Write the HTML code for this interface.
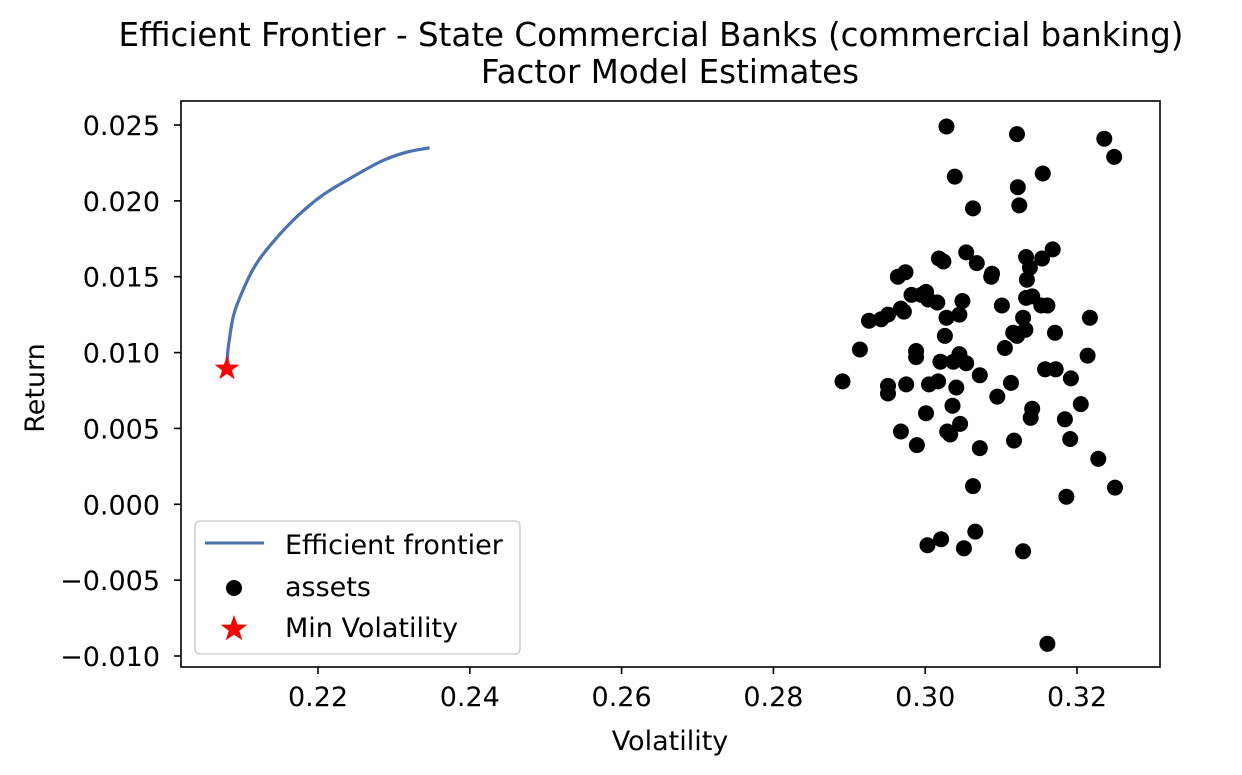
<!DOCTYPE html>
<html><head><meta charset="utf-8"><style>
html,body{margin:0;padding:0;background:#fff;}
svg{display:block;font-family:"DejaVu Sans","Liberation Sans",sans-serif;}
</style></head><body>
<svg id="chart" width="1242" height="775" viewBox="0 0 1242 775">
<rect x="0" y="0" width="1242" height="775" fill="#fff"/>
<g id="plot"></g>
</svg>
<script>
const assetVol=[0.3028,0.3121,0.3236,0.3249,0.3039,0.3155,0.3122,0.3063,0.3124,0.3054,0.3133,0.3168,0.3154,0.3018,0.3024,0.3068,0.3138,0.2964,0.2974,0.3087,0.3134,0.3088,0.2982,0.2995,0.3001,0.3004,0.3016,0.3049,0.3133,0.3141,0.3153,0.3161,0.2968,0.2972,0.2951,0.2942,0.2926,0.3045,0.3028,0.3129,0.3101,0.3217,0.3132,0.3116,0.3121,0.3171,0.3026,0.3105,0.2988,0.2914,0.2988,0.3045,0.3054,0.3037,0.3020,0.3214,0.2891,0.2951,0.2951,0.2975,0.3005,0.3017,0.3041,0.3072,0.3113,0.3158,0.3172,0.3192,0.3205,0.3095,0.3141,0.3139,0.3036,0.3001,0.3184,0.2968,0.3029,0.3033,0.3046,0.3117,0.3191,0.3072,0.2989,0.3228,0.3063,0.3250,0.3186,0.3066,0.3021,0.3003,0.3051,0.3129,0.3161];
const assetRet=[0.0249,0.0244,0.0241,0.0229,0.0216,0.0218,0.0209,0.0195,0.0197,0.0166,0.0163,0.0168,0.0162,0.0162,0.0160,0.0159,0.0156,0.0150,0.0153,0.0150,0.0148,0.0152,0.0138,0.0138,0.0140,0.0135,0.0133,0.0134,0.0136,0.0137,0.0131,0.0131,0.0129,0.0127,0.0125,0.0122,0.0121,0.0125,0.0123,0.0123,0.0131,0.0123,0.0115,0.0113,0.0111,0.0113,0.0111,0.0103,0.0101,0.0102,0.0097,0.0099,0.0093,0.0094,0.0094,0.0098,0.0081,0.0078,0.0073,0.0079,0.0079,0.0081,0.0077,0.0085,0.0080,0.0089,0.0089,0.0083,0.0066,0.0071,0.0063,0.0057,0.0065,0.0060,0.0056,0.0048,0.0048,0.0046,0.0053,0.0042,0.0043,0.0037,0.0039,0.0030,0.0012,0.0011,0.0005,-0.0018,-0.0023,-0.0027,-0.0029,-0.0031,-0.0092];
const frontierVol=[0.2080,0.2081,0.2083,0.2089,0.2101,0.2118,0.2141,0.2171,0.2204,0.2243,0.2283,0.2316,0.2347];
const frontierRet=[0.0090,0.0100,0.0108,0.0125,0.0141,0.0158,0.0173,0.0189,0.0203,0.0215,0.0226,0.0232,0.0235];
const minVol=[0.2080];
const minRet=[0.0090];
const xTicks=[0.22,0.24,0.26,0.28,0.30,0.32];
const yTicks=[0.025,0.020,0.015,0.010,0.005,0.000,-0.005,-0.010];

const L=181,R=1160,T=101,B=667;
function xs(v){return 318+(v-0.22)*7590;}
function ys(r){return 125+(0.025-r)*15171;}
const NS="http://www.w3.org/2000/svg";
const g=document.getElementById('plot');
function mk(tag,attrs,parent){const e=document.createElementNS(NS,tag);for(const k in attrs)e.setAttribute(k,attrs[k]);(parent||g).appendChild(e);return e;}

// smooth path through frontier points (Catmull-Rom)
const fp=frontierVol.map((v,i)=>[xs(v),ys(frontierRet[i])]);
let d='M'+fp[0][0].toFixed(1)+' '+fp[0][1].toFixed(1);
for(let i=0;i<fp.length-1;i++){
  const p0=fp[Math.max(i-1,0)],p1=fp[i],p2=fp[i+1],p3=fp[Math.min(i+2,fp.length-1)];
  const c1=[p1[0]+(p2[0]-p0[0])/6,p1[1]+(p2[1]-p0[1])/6];
  const c2=[p2[0]-(p3[0]-p1[0])/6,p2[1]-(p3[1]-p1[1])/6];
  d+=' C'+c1[0].toFixed(1)+' '+c1[1].toFixed(1)+' '+c2[0].toFixed(1)+' '+c2[1].toFixed(1)+' '+p2[0].toFixed(1)+' '+p2[1].toFixed(1);
}
const fl=mk('path',{d:d,fill:'none',stroke:'#4c72b0','stroke-width':3.2,'stroke-linejoin':'round'});



const ag=mk('g',{});


assetVol.forEach((v,i)=>{
  const c=mk('circle',{cx:xs(v).toFixed(1),cy:ys(assetRet[i]).toFixed(1),r:8,fill:'#000'},ag);
  
  
});

function starPath(cx,cy,ro){let p='';for(let k=0;k<10;k++){const rr=k%2?ro*0.4:ro;const a=-Math.PI/2+k*Math.PI/5;p+=(k?'L':'M')+(cx+rr*Math.cos(a)).toFixed(1)+' '+(cy+rr*Math.sin(a)).toFixed(1);}return p+'Z';}
minVol.forEach((v,i)=>{
  const s=mk('path',{d:starPath(xs(v),ys(minRet[i])+1,13),fill:'#ff0000'});
  
  
});

const fr=mk('rect',{x:L,y:T,width:R-L,height:B-T,fill:'none',stroke:'#000','stroke-width':1.6});



xTicks.forEach(t=>{
  const x=xs(t);
  mk('line',{x1:x,x2:x,y1:B,y2:B+7,stroke:'#000','stroke-width':1.6});
  const tx=mk('text',{x:x,y:B+39,'text-anchor':'middle','font-size':27,fill:'#000'});
  tx.textContent=t.toFixed(2);
  
  
});
yTicks.forEach(t=>{
  const y=ys(t);
  mk('line',{x1:L-7,x2:L,y1:y,y2:y,stroke:'#000','stroke-width':1.6});
  const tx=mk('text',{x:L-21,y:y+10,'text-anchor':'end','font-size':27,fill:'#000'});
  tx.textContent=(t<0?'\u2212':'')+Math.abs(t).toFixed(3);
  
  
});

const xl=mk('text',{x:670,y:750,'text-anchor':'middle','font-size':27});
xl.textContent='Volatility';


const yl=mk('text',{x:44,y:388,'text-anchor':'middle','font-size':27,transform:'rotate(-90 44 388)'});
yl.textContent='Return';


const t1=mk('text',{x:651,y:46,'text-anchor':'middle','font-size':32.5});
t1.textContent='Efficient Frontier - State Commercial Banks (commercial banking)';


const t2=mk('text',{x:670,y:83,'text-anchor':'middle','font-size':32.5});
t2.textContent='Factor Model Estimates';



const lg=mk('g',{});


mk('rect',{x:195,y:521,width:325,height:133,rx:5,fill:'#fff','fill-opacity':0.8,stroke:'#d0d0d0','stroke-width':1.6},lg);
mk('line',{x1:205,x2:264,y1:543,y2:543,stroke:'#4c72b0','stroke-width':3},lg);
mk('circle',{cx:234,cy:588,r:8,fill:'#000'},lg);
mk('path',{d:starPath(234,629,14),fill:'#ff0000'},lg);
[['Efficient frontier',554,'legend-entry-frontier'],['assets',596,'legend-entry-assets'],['Min Volatility',637,'legend-entry-min-volatility']].forEach(a=>{
  const tx=mk('text',{x:285,y:a[1],'font-size':27},lg);
  tx.textContent=a[0];
  
  
});
</script>
</body></html>
